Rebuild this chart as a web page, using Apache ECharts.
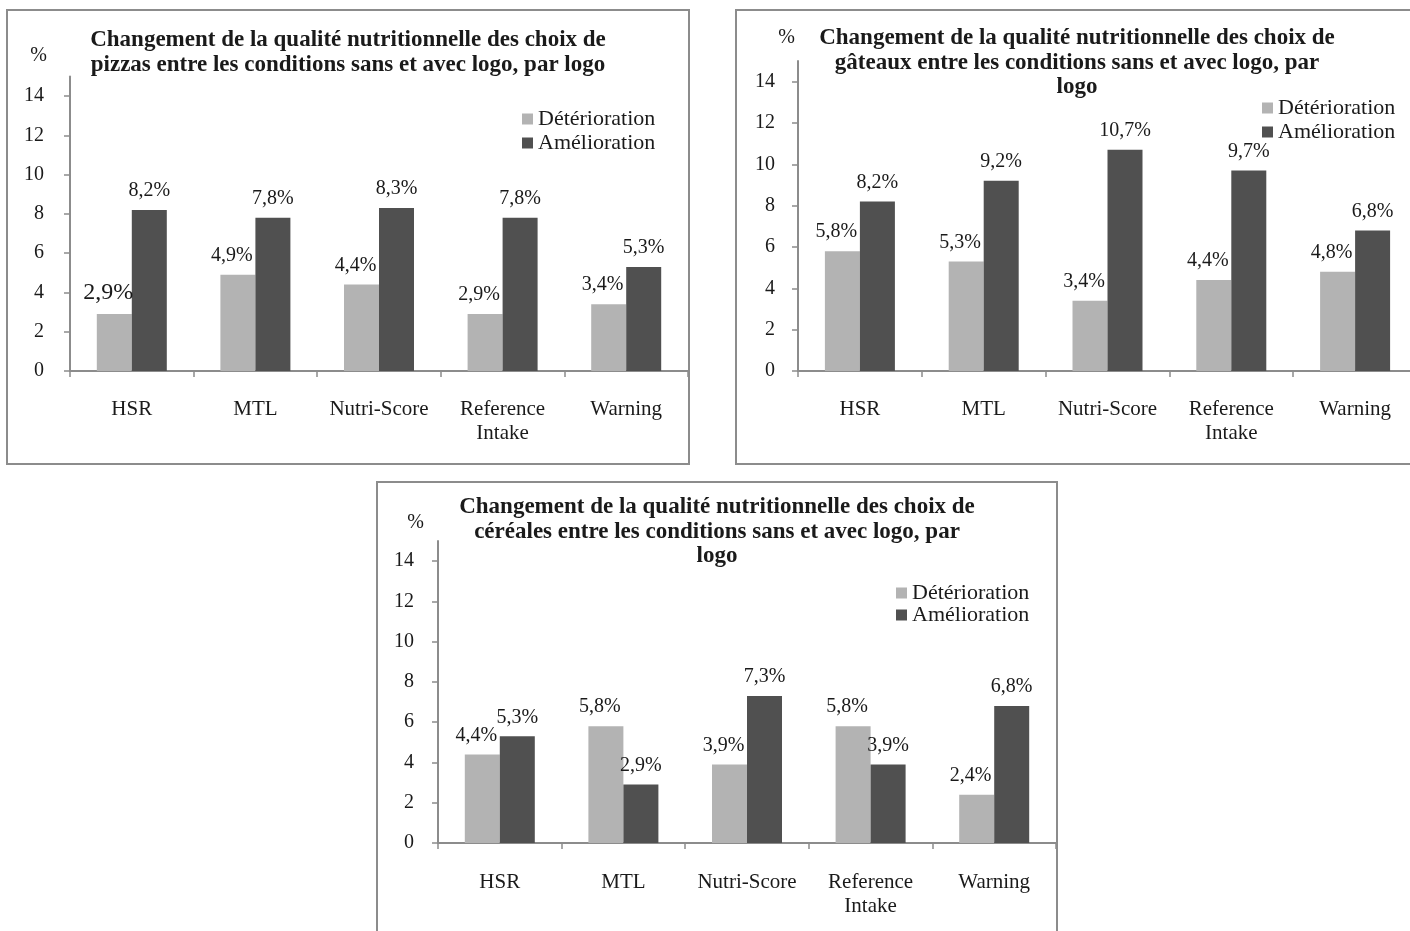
<!DOCTYPE html>
<html>
<head>
<meta charset="utf-8">
<script src="https://cdn.jsdelivr.net/npm/echarts@6/dist/echarts.min.js"></script>
<style>
  html, body { margin:0; padding:0; background:#fff; width:1410px; height:931px; overflow:hidden; }
  .box { position:absolute; box-sizing:border-box; border:2px solid #8c8c8c; background:#fff; }
  .chart { position:absolute; left:0; top:0; }
</style>
</head>
<body>
<div class="box" id="b1" style="left:6px; top:9px; width:684px; height:456px;"><div class="chart" id="c1" style="width:680px; height:452px;"></div></div>
<div class="box" id="b2" style="left:735px; top:9px; width:684px; height:456px;"><div class="chart" id="c2" style="width:680px; height:452px;"></div></div>
<div class="box" id="b3" style="left:376px; top:481px; width:682px; height:480px;"><div class="chart" id="c3" style="width:678px; height:476px;"></div></div>
<script>
// ---- data ----
const categories = ['HSR', 'MTL', 'Nutri-Score', 'Reference Intake', 'Warning'];
const seriesNames = ['Détérioration', 'Amélioration'];
const yTicks = [0, 2, 4, 6, 8, 10, 12, 14];
const yMax = 15;

const pizzasDeterioration = [2.9, 4.9, 4.4, 2.9, 3.4];
const pizzasAmelioration  = [8.2, 7.8, 8.3, 7.8, 5.3];

const gateauxDeterioration = [5.8, 5.3, 3.4, 4.4, 4.8];
const gateauxAmelioration  = [8.2, 9.2, 10.7, 9.7, 6.8];

const cerealesDeterioration = [4.4, 5.8, 3.9, 5.8, 2.4];
const cerealesAmelioration  = [5.3, 2.9, 7.3, 3.9, 6.8];

const title1 = 'Changement de la qualité nutritionnelle des choix de\npizzas entre les conditions sans et avec logo, par logo';
const title2 = 'Changement de la qualité nutritionnelle des choix de\ngâteaux entre les conditions sans et avec logo, par\nlogo';
const title3 = 'Changement de la qualité nutritionnelle des choix de\ncéréales entre les conditions sans et avec logo, par\nlogo';
const yName = '%';

// ---- styling ----
const FONT = "'Liberation Serif', 'DejaVu Serif', serif";
const TXT = '#1a1a1a';
const AXIS = '#8c8c8c';
const LIGHT = '#b3b3b3';
const DARK = '#505050';

function fmt(v) { return v.toFixed(1).replace('.', ',') + '%'; }

function build(cfg) {
  const detData = cfg.det.map((v, i) => (cfg.bigIdx === i ? { value: v, label: { fontSize: 24 } } : v));
  return {
    animation: false,
    textStyle: { fontFamily: FONT, color: TXT },
    title: {
      text: cfg.title, left: 'center', top: cfg.titleTop, padding: cfg.titlePad || 0,
      textStyle: { fontFamily: FONT, fontWeight: 'bold', fontSize: 23, lineHeight: 24.5, color: TXT }
    },
    legend: {
      data: seriesNames, orient: 'vertical', left: cfg.legLeft, top: cfg.legTop,
      itemWidth: 11, itemHeight: 11, itemGap: cfg.legGap, icon: 'rect', padding: 0,
      textStyle: { fontFamily: FONT, fontSize: 22, lineHeight: 20, color: TXT }
    },
    grid: { left: cfg.gl, top: cfg.gt, width: 620, height: cfg.gh, containLabel: false },
    xAxis: {
      type: 'category', data: categories,
      axisLine: { lineStyle: { color: AXIS, width: 2 } },
      axisTick: { show: true, interval: 0, alignWithLabel: false, length: 6, lineStyle: { color: AXIS, width: 1.5 } },
      axisLabel: { interval: 0, margin: cfg.xMargin, fontFamily: FONT, fontSize: 21, lineHeight: 24, color: TXT,
        formatter: v => v.replace(' ', '\n') },
      splitLine: { show: false }
    },
    yAxis: {
      type: 'value', min: 0, max: yMax, interval: 2,
      name: yName, nameLocation: 'end', nameGap: cfg.nameGap,
      nameTextStyle: { fontFamily: FONT, fontSize: 20, color: TXT, align: 'right', padding: [0, cfg.namePad, 0, 0] },
      axisLine: { show: true, lineStyle: { color: AXIS, width: 2 } },
      axisTick: { show: true, length: 6, customValues: yTicks, lineStyle: { color: AXIS, width: 1.5 } },
      axisLabel: { customValues: yTicks, margin: cfg.yMargin, fontFamily: FONT, fontSize: 20, color: TXT },
      splitLine: { show: false }
    },
    series: [
      {
        name: seriesNames[0], type: 'bar', data: detData, barWidth: 35, barGap: '0%',
        itemStyle: { color: LIGHT },
        label: { show: true, position: 'top', distance: 9, offset: [-6, 0], formatter: p => fmt(p.value),
          fontFamily: FONT, fontSize: 20, color: TXT }
      },
      {
        name: seriesNames[1], type: 'bar', data: cfg.amel, barWidth: 35, barGap: '0%',
        itemStyle: { color: DARK },
        label: { show: true, position: 'top', distance: 9, formatter: p => fmt(p.value),
          fontFamily: FONT, fontSize: 20, color: TXT }
      }
    ]
  };
}

const cfgs = [
  { id: 'c1', title: title1, det: pizzasDeterioration, amel: pizzasAmelioration, bigIdx: 0,
    titleTop: 17, legLeft: 514, legTop: 97, legGap: 2,
    gl: 62, gt: 65.5, gh: 294.5, xMargin: 26, yMargin: 26, nameGap: 11, namePad: 23 },
  { id: 'c2', title: title2, det: gateauxDeterioration, amel: gateauxAmelioration, bigIdx: -1,
    titleTop: 15, legLeft: 525, legTop: 86, legGap: 2,
    gl: 61, gt: 50, gh: 310, xMargin: 26, yMargin: 23, nameGap: 13, namePad: 3 },
  { id: 'c3', title: title3, det: cerealesDeterioration, amel: cerealesAmelioration, bigIdx: -1,
    titleTop: 12, titlePad: [0, 0, 0, 8], legLeft: 518, legTop: 99, legGap: 0,
    gl: 60, gt: 58, gh: 302, xMargin: 27, yMargin: 24, nameGap: 8, namePad: 14 }
];

cfgs.forEach(c => {
  const chart = echarts.init(document.getElementById(c.id), null, { renderer: 'canvas' });
  chart.setOption(build(c));
});
</script>
</body>
</html>
